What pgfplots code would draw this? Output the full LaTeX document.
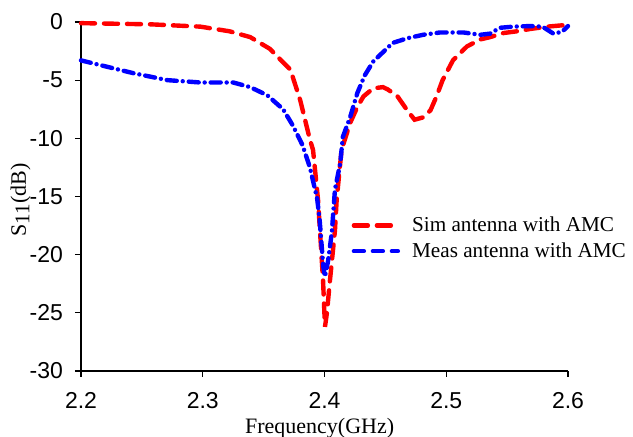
\documentclass[border=0pt]{standalone}
\usepackage{pgfplots}
\pgfplotsset{compat=1.18}
\usepackage{fontspec}
\setmainfont{Liberation Serif}
\newfontfamily\arialfont{Liberation Sans}
\begin{document}
\begin{tikzpicture}
\path[use as bounding box] (-40.5pt,-33pt) rectangle (276pt,185.5pt);
\begin{axis}[
  scale only axis,
  width=243.5pt, height=174.5pt,
  xmin=2.2, xmax=2.6, ymin=-30, ymax=0,
  axis x line=bottom, axis y line=left,
  axis line style={-, line width=0.8pt, black},
  xtick={2.2,2.3,2.4,2.5,2.6},
  ytick={-30,-25,-20,-15,-10,-5,0},
  tick align=outside,
  major tick length=3pt,
  tick style={black, line width=0.6pt},
  /pgf/number format/assume math mode=true,
  xticklabel style={font=\arialfont\fontsize{11.5}{13}\selectfont, yshift=-4pt},
  yticklabel style={font=\arialfont\fontsize{11.5}{13}\selectfont, xshift=-2.5pt},
  xticklabel={\pgfmathprintnumber[fixed,precision=1,fixed zerofill]{\tick}},
  xlabel={Frequency(GHz)},
  ylabel={S\raisebox{-0.35ex}{\fontsize{10.5}{11}\selectfont 11}(dB)},
  label style={font=\fontsize{11}{13}\selectfont},
  xlabel style={at={(axis description cs:0.49,0)}, anchor=center, yshift=-28.5pt},
  ylabel style={at={(axis description cs:-0.124,0.49)}, anchor=center},
  legend style={draw=none, fill=none, at={(0.555,0.455)}, anchor=north west,
    font=\fontsize{10.6}{13}\selectfont, row sep=0pt, inner sep=0pt},
  legend cell align=left,
  legend image code/.code={\draw[#1] (0pt,0pt) -- (22pt,0pt);},
  clip=false,
]
\addplot[red, line width=2.2pt, line cap=round, dash pattern=on 7pt off 4.5pt, forget plot] coordinates {
(2.200,-0.1) (2.257,-0.2) (2.298,-0.4) (2.322,-0.8) (2.339,-1.3) (2.355,-2.3)
(2.372,-4.1) (2.380,-6.7) (2.388,-10.1) (2.3906,-11.0) (2.3947,-15.3)
(2.3988,-22.2) (2.4004,-26.2) (2.402,-25.0) (2.4045,-22.2) (2.4086,-17.9)
(2.410,-15.3) (2.414,-11.0) (2.421,-8.7) (2.427,-7.3) (2.432,-6.4) (2.440,-5.7)
(2.448,-5.6) (2.452,-5.8) (2.460,-6.4) (2.468,-7.6) (2.474,-8.4) (2.481,-8.2)
(2.487,-7.6) (2.492,-6.4) (2.497,-5.0) (2.5055,-3.3) (2.517,-2.1) (2.528,-1.5)
(2.536,-1.3) (2.547,-0.95) (2.558,-0.8) (2.569,-0.6) (2.583,-0.4) (2.599,-0.25)
};
\addplot[blue, line width=2.2pt, line cap=round, dash pattern=on 5pt off 3pt on 0pt off 3pt, forget plot] coordinates {
(2.200,-3.3) (2.2156,-3.7) (2.243,-4.4) (2.271,-5.0) (2.298,-5.2) (2.325,-5.2)
(2.339,-5.6) (2.353,-6.3) (2.366,-7.5) (2.374,-8.9) (2.382,-10.6) (2.388,-12.5)
(2.394,-15.2) (2.396,-17.0) (2.399,-21.0) (2.4004,-21.9) (2.403,-20.5)
(2.406,-18.1) (2.4086,-14.4) (2.413,-12.1) (2.415,-9.9) (2.421,-8.2)
(2.427,-6.1) (2.433,-4.6) (2.440,-3.4) (2.448,-2.6) (2.456,-1.8) (2.468,-1.4)
(2.481,-1.1) (2.495,-0.9) (2.514,-0.9) (2.528,-1.1) (2.536,-1.0) (2.544,-0.5)
(2.555,-0.4) (2.569,-0.35) (2.579,-0.4) (2.588,-1.0) (2.595,-0.85) (2.600,-0.35)
};
\addlegendimage{red, line width=2.2pt, line cap=round, dash pattern=on 7pt off 4.5pt}
\addlegendentry{\hspace{4pt}Sim antenna with AMC}
\addlegendimage{blue, line width=2.2pt, line cap=round, dash pattern=on 5pt off 4.5pt}
\addlegendentry{\hspace{4pt}Meas antenna with AMC}
\end{axis}
\end{tikzpicture}
\end{document}
